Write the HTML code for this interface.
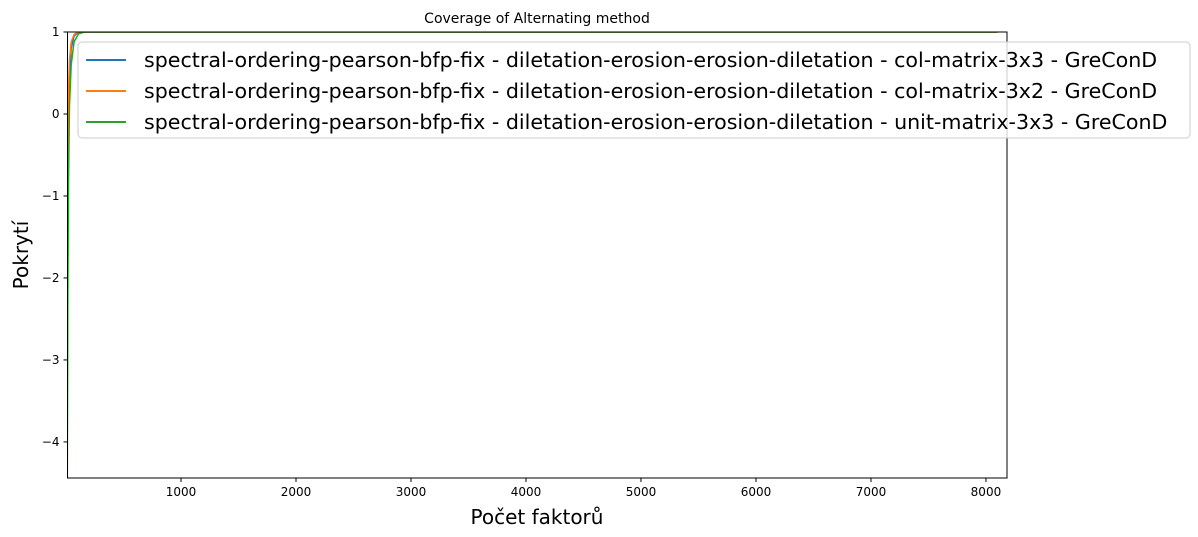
<!DOCTYPE html>
<html><head><meta charset="utf-8"><style>
html,body{margin:0;background:#fff;overflow:hidden;width:1198px;height:537px;font-family:"Liberation Sans","DejaVu Sans",sans-serif}
svg{display:block}
svg text{font-family:"DejaVu Sans","Liberation Sans",sans-serif}
</style></head><body>
<svg id="c" width="1198" height="537"></svg>
<script>
const xTicks=[1000,2000,3000,4000,5000,6000,7000,8000];
const yTicks=[1,0,-1,-2,-3,-4];
const seriesNames=["spectral-ordering-pearson-bfp-fix - diletation-erosion-erosion-diletation - col-matrix-3x3 - GreConD","spectral-ordering-pearson-bfp-fix - diletation-erosion-erosion-diletation - col-matrix-3x2 - GreConD","spectral-ordering-pearson-bfp-fix - diletation-erosion-erosion-diletation - unit-matrix-3x3 - GreConD"];
const colors=["#1f77b4","#ff7f0e","#2ca02c"];
const blueX=[8,12,16,22,30,45,70,100,130,8100];
const blueY=[-6,-3,-1.2,-0.1,0.45,0.8,0.95,0.99,1,1];
const orangeX=[8,12,16,22,30,45,70,95,120,8100];
const orangeY=[-5,-2,-0.5,0.3,0.65,0.88,0.97,0.995,1,1];
const greenX=[8,12,16,22,30,45,70,110,160,8100];
const greenY=[-7,-4,-2.2,-0.8,0.1,0.6,0.88,0.98,1,1];
const L=67.5,R=1007,T=32,B=478,xmin=13,xmax=8183,ymin=-4.44,ymax=1;
const sx=v=>L+(v-xmin)/(xmax-xmin)*(R-L);
const sy=v=>T+(ymax-v)/(ymax-ymin)*(B-T);
const svg=document.getElementById('c');const NS="http://www.w3.org/2000/svg";
function mk(t,a,p){const e=document.createElementNS(NS,t);for(const k in a)e.setAttribute(k,a[k]);(p||svg).appendChild(e);return e;}
const defs=mk('defs',{});const cp=mk('clipPath',{id:'cp'},defs);mk('rect',{x:L,y:T,width:R-L,height:B-T},cp);
const g=mk('g',{'clip-path':'url(#cp)'});
[[blueX,blueY],[orangeX,orangeY],[greenX,greenY]].forEach((s,i)=>{
 const p=mk('polyline',{points:s[0].map((x,j)=>sx(x)+','+sy(s[1][j])).join(' '),fill:'none',stroke:colors[i],'stroke-width':1.5},g);
 
 
});
const fr=mk('rect',{x:L,y:T,width:R-L,height:B-T,fill:'none',stroke:'#000','stroke-width':1});


xTicks.forEach(v=>{mk('line',{x1:sx(v),x2:sx(v),y1:B,y2:B+4,stroke:'#000'});
 const t=mk('text',{x:sx(v),y:B+18,'font-size':12,'text-anchor':'middle'});t.textContent=v;
 
 });
yTicks.forEach(v=>{mk('line',{x1:L-4,x2:L,y1:sy(v),y2:sy(v),stroke:'#000'});
 const t=mk('text',{x:L-8,y:sy(v)+4,'font-size':12,'text-anchor':'end'});t.textContent=v<0?'\u2212'+(-v):v;
 
 });
let t=mk('text',{x:537,y:23,'font-size':14,'text-anchor':'middle'});t.textContent='Coverage of Alternating method';


t=mk('text',{x:537,y:524,'font-size':20,'text-anchor':'middle'});t.textContent='Počet faktorů';


t=mk('text',{x:28,y:255,'font-size':20,'text-anchor':'middle',transform:'rotate(-90 28 255)'});t.textContent='Pokrytí';


const lg=mk('g',{});


mk('rect',{x:78,y:42,width:1112,height:96,rx:4,fill:'#fff','fill-opacity':0.8,stroke:'#ccc'},lg);
seriesNames.forEach((n,i)=>{const y=60+i*31;
 mk('line',{x1:86,x2:126,y1:y,y2:y,stroke:colors[i],'stroke-width':2},lg);
 const tt=mk('text',{x:144,y:y+7,'font-size':20.6},lg);tt.textContent=n;
 
 });
</script></body></html>
